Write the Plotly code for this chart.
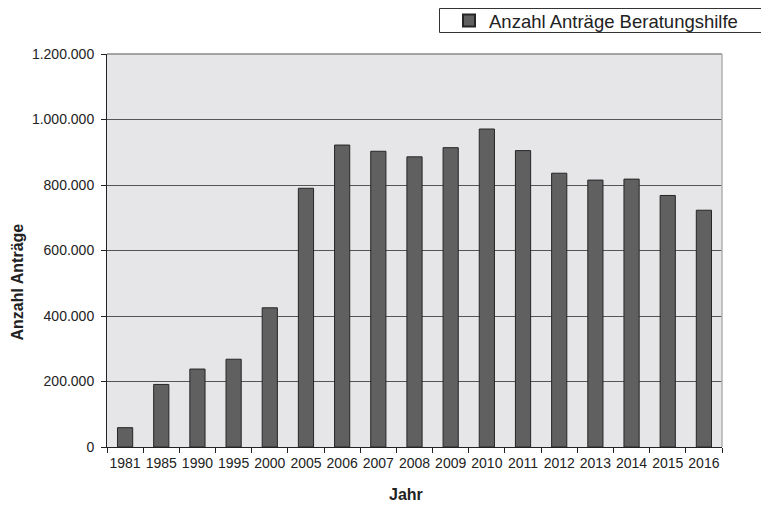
import plotly.graph_objects as go

years = ["1981", "1985", "1990", "1995", "2000", "2005", "2006", "2007", "2008",
         "2009", "2010", "2011", "2012", "2013", "2014", "2015", "2016"]
antraege = [59000, 191000, 238000, 268000, 425000, 790000, 922000, 903000, 886000,
            914000, 971000, 905000, 836000, 815000, 818000, 768000, 723000]
series_name = "Anzahl Anträge Beratungshilfe"
y_ticks = [0, 200000, 400000, 600000, 800000, 1000000, 1200000]

# page has an 8px body margin; figure is sized to fill the rest of the window
OFF = 8
W, H = 769 - OFF, 505 - OFF
# plot area in page pixels: x 107..722, y 54..447
L, R, T, B = 107 - OFF, 769 - 722, 54 - OFF, 505 - 447
pw, ph = W - L - R, H - T - B

def px_x(x):
    return (x - OFF - L) / pw

def px_y(y):
    return (H - B - (y - OFF)) / ph

fig = go.Figure()
fig.add_trace(go.Bar(
    x=years, y=antraege, name=series_name,
    marker=dict(color="#606060", line=dict(color="#262626", width=1)),
    width=0.42,
    showlegend=True,
))

font = "Liberation Sans, Arial, sans-serif"
fig.update_layout(
    width=W, height=H,
    margin=dict(l=L, r=R, t=T, b=B, pad=0, autoexpand=False),
    paper_bgcolor="white",
    plot_bgcolor="#e6e6e8",
    separators=",.",
    font=dict(family=font, size=14, color="#222"),
    showlegend=True,
    legend=dict(
        x=px_x(449), y=px_y(2), xanchor="left", yanchor="top",
        bgcolor="rgba(0,0,0,0)", borderwidth=0,
        font=dict(size=18.5, color="#222", family=font),
        itemsizing="constant",
        tracegroupgap=0,
    ),
    xaxis=dict(
        type="category",
        showgrid=False,
        showline=True, linecolor="#222", linewidth=1,
        ticks="outside", tickson="boundaries", ticklen=5, tickcolor="#222",
        tickfont=dict(size=14, color="#222"),
        tickangle=0,
        ticklabelstandoff=3,
    ),
    yaxis=dict(
        range=[0, 1200000],
        tickvals=y_ticks,
        tickformat=",d",
        showgrid=True, gridcolor="#555", gridwidth=1,
        showline=True, linecolor="#222", linewidth=1,
        ticks="outside", ticklen=5, tickcolor="#222",
        tickfont=dict(size=14, color="#222"),
        ticklabelstandoff=4,
        zeroline=False,
    ),
    shapes=[
        dict(type="line", xref="paper", yref="paper", x0=0, x1=1, y0=1, y1=1,
             line=dict(color="#8a8a8a", width=1.5)),
        dict(type="line", xref="paper", yref="paper", x0=1, x1=1, y0=0, y1=1,
             line=dict(color="#b0b0b0", width=1.5)),
        dict(type="rect", xref="paper", yref="paper",
             x0=px_x(439.5), x1=px_x(775), y0=px_y(32.5), y1=px_y(8.5),
             line=dict(color="#333", width=1), fillcolor="rgba(0,0,0,0)"),
    ],
    annotations=[
        dict(text="<b>Jahr</b>", xref="paper", yref="paper",
             x=px_x(406), y=px_y(494), xanchor="center", yanchor="middle",
             showarrow=False, font=dict(size=16, color="#222")),
        dict(text="<b>Anzahl Anträge</b>", xref="paper", yref="paper",
             x=px_x(16.5), y=px_y(282), xanchor="center", yanchor="middle",
             textangle=-90, showarrow=False, font=dict(size=16, color="#222")),
    ],
)

fig.write_html("out.html")
